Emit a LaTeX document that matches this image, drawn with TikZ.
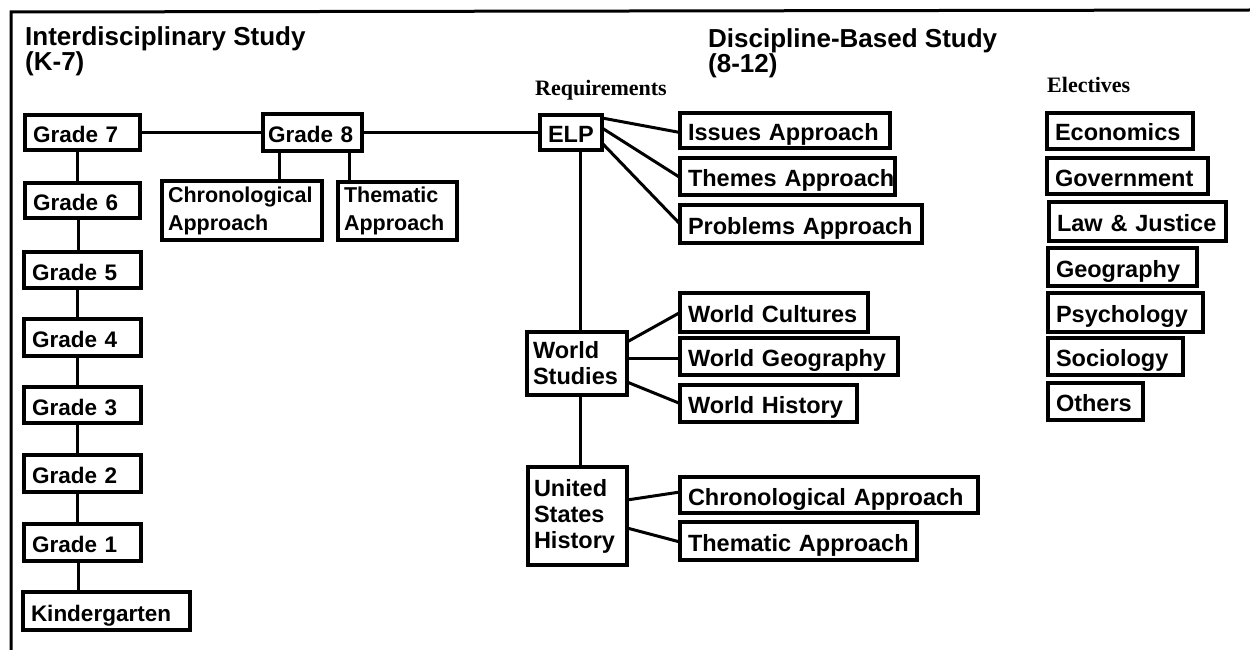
\documentclass[tikz,border=0pt]{standalone}
\usepackage{fontspec}
\newfontfamily\lsans{Liberation Sans}
\newfontfamily\lserif{Liberation Serif}
\begin{document}
\begin{tikzpicture}[x=1pt,y=-1pt]
\tikzset{
  bxm/.style={draw, line width=3.2pt, outer sep=0pt, anchor=north west,
    inner xsep=8pt, inner ysep=0pt, align=left,
    font={\lsans\bfseries\fontsize{23.5}{26}\selectfont}},
  bx/.style={bxm, text height=20pt, text depth=0pt},
  bxl/.style={bx, font={\lsans\bfseries\fontsize{22.5}{26}\selectfont}},
  bxs/.style={bxm, font={\lsans\bfseries\fontsize{21.5}{28}\selectfont}},
  con/.style={line width=3pt},
  ttl/.style={anchor=base west, inner sep=0pt, align=left,
    font={\lsans\bfseries\fontsize{26}{23}\selectfont}},
  sub/.style={anchor=base west, inner sep=0pt,
    font={\lserif\bfseries\fontsize{22}{24}\selectfont}}
}
\useasboundingbox (0,0) rectangle (1250,650);
\fill[white] (0,0) rectangle (1250,650);
% open frame
\draw[line width=3pt] (11,650) -- (11,12) -- (1250,10);

% titles (base anchor = last line)
\node[ttl] (t1) at (25,71) {Interdisciplinary Study\\(K-7)};
\node[ttl] (t2) at (708,73) {Discipline-Based Study\\(8-12)};
\node[sub] (req) at (535,96) {Requirements};
\node[sub] (ele) at (1047,93) {Electives};

% K-7 column
\node[bxl, text width=99pt, minimum height=35pt] (g7) at (25,115) {\mbox{Grade 7}};
\node[bxl, text width=99pt, minimum height=35pt] (g6) at (25,183) {\mbox{Grade 6}};
\node[bxl, text width=101pt, minimum height=36pt] (g5) at (24,252) {\mbox{Grade 5}};
\node[bxl, text width=101pt, minimum height=37pt] (g4) at (24,319) {\mbox{Grade 4}};
\node[bxl, text width=101pt, minimum height=36pt] (g3) at (24,387) {\mbox{Grade 3}};
\node[bxl, text width=101pt, minimum height=37pt] (g2) at (24,455) {\mbox{Grade 2}};
\node[bxl, text width=101pt, minimum height=37pt] (g1) at (24,524) {\mbox{Grade 1}};
\node[bxl, text width=151pt, minimum height=38pt] (kg) at (23,592) {\mbox{Kindergarten}};

% Grade 8
\node[bxl, inner xsep=5pt, text width=89pt, minimum height=37pt] (g8) at (263,114) {\mbox{Grade 8}};
\node[bxs, inner xsep=6pt, text width=148pt, minimum height=59pt] (chr) at (162,181) {Chronological\\Approach};
\node[bxs, inner xsep=6pt, text width=107pt, minimum height=58pt] (thz) at (338,182) {Thematic\\Approach};

% Requirements
\node[bx, text width=46pt, minimum height=35pt] (elp) at (540,115) {\mbox{ELP}};
\node[bx, text width=194pt, minimum height=35pt] (iss) at (680,113) {\mbox{Issues Approach}};
\node[bx, text width=199pt, minimum height=37pt] (thm) at (680,158) {\mbox{Themes Approach}};
\node[bx, text width=226pt, minimum height=38pt] (prb) at (680,205) {\mbox{Problems Approach}};

\node[bxm, inner xsep=6pt, text width=88pt, minimum height=63pt] (ws) at (527,332) {World\\Studies};
\node[bx, text width=172pt, minimum height=39pt] (wc) at (680,293) {\mbox{World Cultures}};
\node[bx, text width=202pt, minimum height=37pt] (wg) at (680,338) {\mbox{World Geography}};
\node[bx, text width=161pt, minimum height=37pt] (wh) at (680,385) {\mbox{World History}};

\node[bxm, inner xsep=6pt, text width=87pt, minimum height=98pt] (us) at (528,467) {United\\States\\History};
\node[bx, text width=282pt, minimum height=36pt] (uc) at (680,477) {\mbox{Chronological Approach}};
\node[bx, text width=221pt, minimum height=38pt] (ut) at (680,522) {\mbox{Thematic Approach}};

% Electives
\node[bx, text width=130pt, minimum height=36pt] (e1) at (1047,113) {\mbox{Economics}};
\node[bx, text width=145pt, minimum height=36pt] (e2) at (1047,158) {\mbox{Government}};
\node[bx, text width=161pt, minimum height=39pt] (e3) at (1049,202) {\mbox{Law \& Justice}};
\node[bx, text width=133pt, minimum height=38pt] (e4) at (1048,248) {\mbox{Geography}};
\node[bx, text width=139pt, minimum height=39pt] (e5) at (1048,293) {\mbox{Psychology}};
\node[bx, text width=119pt, minimum height=37pt] (e6) at (1048,338) {\mbox{Sociology}};
\node[bx, text width=79pt, minimum height=37pt] (e7) at (1048,383) {\mbox{Others}};

% connectors: grade chain
\draw[con] ([xshift=52pt]g7.south west) -- ([xshift=52pt]g7.south west |- g6.north);
\draw[con] ([xshift=53pt]g6.south west) -- ([xshift=53pt]g6.south west |- g5.north);
\draw[con] ([xshift=53pt]g5.south west) -- ([xshift=53pt]g5.south west |- g4.north);
\draw[con] ([xshift=53pt]g4.south west) -- ([xshift=53pt]g4.south west |- g3.north);
\draw[con] ([xshift=53pt]g3.south west) -- ([xshift=53pt]g3.south west |- g2.north);
\draw[con] ([xshift=53pt]g2.south west) -- ([xshift=53pt]g2.south west |- g1.north);
\draw[con] ([xshift=54pt]g1.south west) -- ([xshift=54pt]g1.south west |- kg.north);

\draw[con] (g7.east) -- (g7.east -| g8.west);
\draw[con] (g8.east) -- (g8.east -| elp.west);
\draw[con] ([xshift=16pt]g8.south west) -- ([xshift=16pt]g8.south west |- chr.north);
\draw[con] ([xshift=86pt]g8.south west) -- ([xshift=86pt]g8.south west |- thz.north);

% ELP fan
\draw[con] ([yshift=-3pt]elp.north east) -- ([yshift=-2pt]iss.west);
\draw[con] ([yshift=-13pt]elp.north east) -- ([yshift=-1pt]thm.west);
\draw[con] ([yshift=-28pt]elp.north east) -- (prb.west);

% vertical spine
\draw[con] ([xshift=40pt]elp.south west) -- ([xshift=40pt]elp.south west |- ws.north);
\draw[con] ([xshift=53pt]ws.south west) -- ([xshift=53pt]ws.south west |- us.north);

% World Studies fan
\draw[con] ([yshift=-10pt]ws.north east) -- (wc.west);
\draw[con] ([yshift=-26pt]ws.north east) -- ([yshift=-26pt]ws.north east -| wg.west);
\draw[con] ([yshift=-50pt]ws.north east) -- (wh.west);

% US History fan
\draw[con] ([yshift=-33pt]us.north east) -- ([yshift=3pt]uc.west);
\draw[con] ([yshift=-61pt]us.north east) -- ([yshift=-1pt]ut.west);
\end{tikzpicture}
\end{document}
